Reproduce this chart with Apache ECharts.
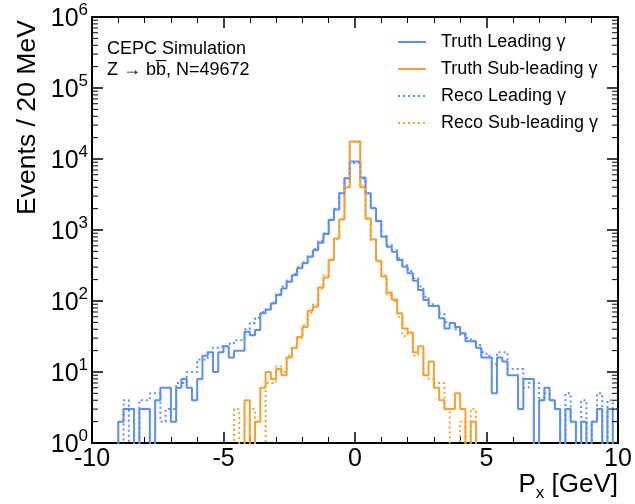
<!DOCTYPE html>
<html><head><meta charset="utf-8">
<script src="https://cdn.jsdelivr.net/npm/echarts@6/dist/echarts.min.js"></script>
<style>html,body{margin:0;padding:0;background:#fff}#c{width:635px;height:504px}</style>
</head><body><div id="c"></div>
<script>
// ---- histogram binning (100 bins of 0.2 GeV from -10 to 10) ----
const xMin = -10, xMax = 10, binWidth = 0.2;
const xTickLabels = [-10, -5, 0, 5, 10];
const yTickExponents = [0, 1, 2, 3, 4, 5, 6];
const seriesNames = ['Truth Leading \u03b3', 'Truth Sub-leading \u03b3', 'Reco Leading \u03b3', 'Reco Sub-leading \u03b3'];

// ---- bin contents ----
const truthLeading = [
  0,0,0,0,0, 2,3,3,0,3, 3,0,4,6,6, 2,6,8,6,4,
  8,17,19,10,19, 23,16,20,20,37, 33,39,67,76,92, 121,150,187,230,290,
  340,420,520,660,880, 1380,1950,3290,5350,9200, 9200,5500,3290,2020,1340, 805,582,495,378,304,
  245,193,143,103,85, 85,57,41,49,43, 35,27,27,22,16, 16,5,16,14,9,
  9,3,8,8,0, 4,6,4,3,0, 3,2,0,2,0, 2,3,0,3,0
];
const truthSubleading = [
  0,0,0,0,0, 0,0,0,0,0, 0,0,0,0,0, 0,0,0,0,0,
  0,0,0,0,0, 0,0,0,0,4, 0,2,6,10,8, 11,9,16,22,31,
  43,73,83,155,215, 378,760,1420,4000,17500, 17500,4000,1450,740,370, 222,131,105,67,41,
  36,19,23,9,14, 6,4,3,3,5, 3,0,2,0,0, 0,0,0,0,0,
  0,0,0,0,0, 0,0,0,0,0, 0,0,0,0,0, 0,0,0,0,0
];
const recoLeading = [
  0,0,0,0,0, 0,4,0,0,4, 4,5,5,2,3, 3,7,7,10,10,
  15,15,19,22,23, 23,25,28,28,40, 49,58,70,75,95, 125,160,195,240,300,
  350,430,540,700,900, 1400,2000,3300,5300,8800, 8800,5300,3300,2050,1330, 830,620,520,400,320,
  265,210,160,115,90, 85,66,50,47,40, 33,30,27,24,19, 17,13,19,19,11,
  11,11,6,7,7, 4,5,4,3,0, 5,2,0,4,0, 2,5,0,4,3
];
const recoSubleading = [
  0,0,0,0,0, 0,0,0,0,0, 0,0,0,0,0, 0,0,0,0,0,
  0,0,0,0,0, 0,0,3,0,0, 3,0,0,7,7, 12,10,17,22,30,
  45,68,90,150,230, 390,740,1400,4100,17800, 17800,4100,1430,720,360, 230,120,100,60,32,
  35,17,21,9,8, 7,7,3,0,0, 2,0,3,0,0, 0,0,0,0,0,
  0,0,0,0,0, 0,0,0,0,0, 0,0,0,0,0, 0,0,0,0,0
];

const FONT = '"Liberation Sans", Arial, Helvetica, sans-serif';
const BLUE = '#5a8ff0', ORANGE = '#f7a030';

// empty bins are put below the axis floor so the step drops to the frame
function histData(counts) {
  const d = counts.map((c, i) => [xMin + i * binWidth, c > 0 ? c : 0.1]);
  const last = counts[counts.length - 1];
  d.push([xMax, last > 0 ? last : 0.1]);
  return d;
}
function hist(name, counts, color, dotted, z) {
  return {
    name, type: 'line', step: 'end', data: histData(counts), symbol: 'none', showSymbol: false,
    clip: true, z, animation: false,
    lineStyle: { color, width: 2, type: dotted ? [2, 3] : 'solid' },
    itemStyle: { color }
  };
}

// minor log ticks (2..9 x 10^n) drawn through the axes' own scale
const minorTickValues = [];
for (let e = 0; e < 6; e++) for (let m = 2; m <= 9; m++) minorTickValues.push(m * Math.pow(10, e));

const chart = echarts.init(document.getElementById('c'), null, { renderer: 'canvas' });

const xAxisCommon = {
  type: 'value', min: xMin, max: xMax, interval: 5,
  axisLine: { show: true, onZero: false, lineStyle: { color: '#000', width: 2 } },
  axisTick: { show: true, inside: true, length: 11, lineStyle: { color: '#000', width: 1.5 } },
  minorTick: { show: true, splitNumber: 5, length: 6, lineStyle: { color: '#000', width: 1 } },
  splitLine: { show: false }, minorSplitLine: { show: false }
};
const yAxisCommon = {
  type: 'log', logBase: 10, min: Math.pow(10, yTickExponents[0]), max: Math.pow(10, yTickExponents[yTickExponents.length - 1]),
  splitNumber: 6,
  axisLine: { show: true, onZero: false, lineStyle: { color: '#000', width: 2 } },
  axisTick: { show: true, inside: true, length: 11, lineStyle: { color: '#000', width: 1.5 } },
  splitLine: { show: false }
};

chart.setOption({
  animation: false,
  backgroundColor: '#fff',
  grid: { left: 92, right: 17, top: 17, bottom: 61, containLabel: false },
  xAxis: [
    Object.assign({}, xAxisCommon, {
      position: 'bottom',
      axisLabel: {
        show: true, margin: 4, color: '#000', fontSize: 25, fontFamily: FONT,
        formatter: v => (xTickLabels.indexOf(v) >= 0 ? String(v) : '')
      }
    }),
    Object.assign({}, xAxisCommon, { position: 'top', axisLabel: { show: false } })
  ],
  yAxis: [
    Object.assign({}, yAxisCommon, {
      position: 'left',
      axisLabel: {
        show: true, margin: 4, color: '#000', fontFamily: FONT,
        formatter: v => '{b|10}{s|' + Math.round(Math.log10(v)) + '}',
        rich: {
          b: { fontSize: 25, fontFamily: FONT, color: '#000', lineHeight: 30, verticalAlign: 'bottom' },
          s: { fontSize: 17, fontFamily: FONT, color: '#000', lineHeight: 17, verticalAlign: 'top' }
        }
      }
    }),
    Object.assign({}, yAxisCommon, { position: 'right', axisLabel: { show: false } })
  ],
  legend: {
    data: seriesNames, orient: 'vertical', left: 397, top: 32, padding: 0,
    itemWidth: 28, itemHeight: 14, itemGap: 7,
    itemStyle: { opacity: 0, borderWidth: 0 },
    textStyle: { fontSize: 18, fontFamily: FONT, color: '#000', lineHeight: 20, padding: [0, 0, 0, 10] }
  },
  graphic: [
    { type: 'text', left: 107, top: 40, z: 100,
      style: { text: 'CEPC Simulation', font: '18px ' + FONT, fill: '#000' } },
    { type: 'text', left: 107, top: 61, z: 100,
      style: { text: 'Z \u2192 bb\u0305, N=49672', font: '18px ' + FONT, fill: '#000' } },
    { type: 'text', x: 28, y: 20, rotation: Math.PI / 2, z: 100,
      style: { text: 'Events / 20 MeV', font: '26.6px ' + FONT, fill: '#000', align: 'right', verticalAlign: 'middle' } },
    { type: 'text', x: 618, y: 472, z: 100,
      style: {
        text: '{a|P}{b|x}{a| [GeV]}', align: 'right', verticalAlign: 'top',
        rich: {
          a: { fontSize: 26, fontFamily: FONT, fill: '#000', color: '#000', lineHeight: 30, verticalAlign: 'top' },
          b: { fontSize: 17, fontFamily: FONT, fill: '#000', color: '#000', lineHeight: 17, verticalAlign: 'bottom' }
        }
      } }
  ],
  series: [
    hist(seriesNames[0], truthLeading, BLUE, false, 3),
    hist(seriesNames[1], truthSubleading, ORANGE, false, 4),
    hist(seriesNames[2], recoLeading, BLUE, true, 5),
    hist(seriesNames[3], recoSubleading, ORANGE, true, 6),
    {
      type: 'custom', name: 'minorTicks', silent: true, clip: false, z: 10,
      data: minorTickValues.map(v => [xMin, v]), encode: { x: 0, y: 1 },
      renderItem: (params, api) => {
        const v = api.value(1);
        const L = api.coord([xMin, v]);
        const R = api.coord([xMax, v]);
        return { type: 'group', children: [
          { type: 'line', shape: { x1: L[0], y1: L[1], x2: L[0] + 6, y2: L[1] }, style: { stroke: '#000', lineWidth: 1 } },
          { type: 'line', shape: { x1: R[0], y1: R[1], x2: R[0] - 6, y2: R[1] }, style: { stroke: '#000', lineWidth: 1 } }
        ] };
      }
    }
  ]
});
</script>
</body></html>
